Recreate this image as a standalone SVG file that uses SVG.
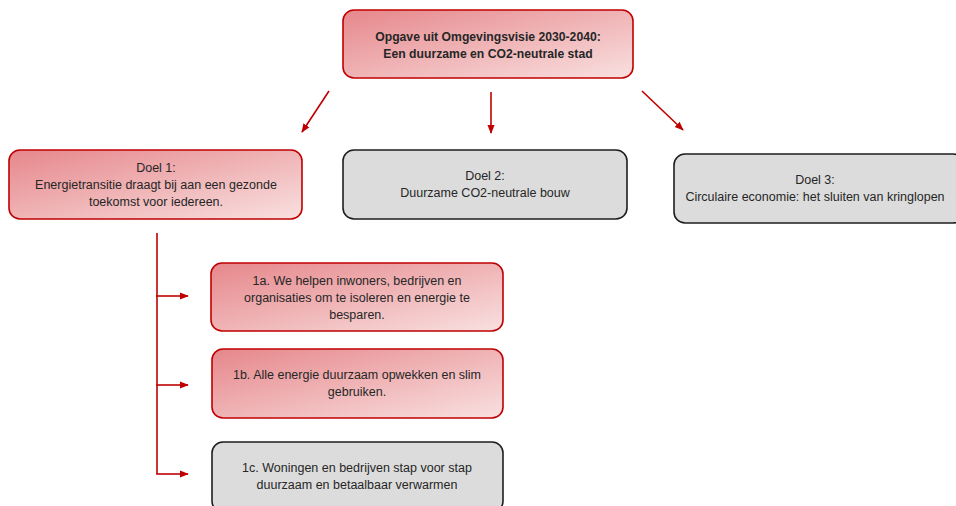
<svg xmlns="http://www.w3.org/2000/svg" width="956" height="506" viewBox="0 0 956 506">
<style>
.red{fill:url(#rg);stroke:#c00000;stroke-width:1.6}
.gray{fill:#dcdcdc;stroke:#1e1e1e;stroke-width:1.6}
text{font-family:"Liberation Sans",Arial,sans-serif;font-size:12.5px;fill:#262626;text-anchor:middle}
.b{font-weight:bold;font-size:12.2px}
.c{stroke:#c00000;stroke-width:1.6;fill:none}
</style>
<defs>
<linearGradient id="rg" x1="0" y1="0" x2="1" y2="1">
<stop offset="0" stop-color="#e6878b"/>
<stop offset="1" stop-color="#f9e0e0"/>
</linearGradient>
<marker id="ah" viewBox="0 0 10 10" refX="9" refY="5" markerWidth="9" markerHeight="9" markerUnits="userSpaceOnUse" orient="auto">
<path d="M0,1 L10,5 L0,9 z" fill="#c00000"/>
</marker>
</defs>
<rect width="956" height="506" fill="#fff"/>
<g id="connectors">
<line class="c" x1="329" y1="91" x2="302" y2="132" marker-end="url(#ah)"/>
<line class="c" x1="491" y1="92" x2="491" y2="133" marker-end="url(#ah)"/>
<line class="c" x1="642" y1="91" x2="683" y2="130" marker-end="url(#ah)"/>
<polyline class="c" points="157,233 157,474"/>
<line class="c" x1="156.2" y1="296" x2="188" y2="296" marker-end="url(#ah)"/>
<line class="c" x1="156.2" y1="385" x2="188" y2="385" marker-end="url(#ah)"/>
<line class="c" x1="156.2" y1="474" x2="188" y2="474" marker-end="url(#ah)"/>
</g>
<g id="top">
<rect class="red" x="343" y="10" width="290" height="68" rx="11"/>
<text class="b" x="488" y="41">Opgave uit Omgevingsvisie 2030-2040:</text>
<text class="b" x="488" y="58">Een duurzame en CO2-neutrale stad</text>
</g>
<g id="doel1">
<rect class="red" x="9" y="150" width="293" height="69" rx="11"/>
<text x="156" y="172">Doel 1:</text>
<text x="156" y="189">Energietransitie draagt bij aan een gezonde</text>
<text x="156" y="206">toekomst voor iedereen.</text>
</g>
<g id="doel2">
<rect class="gray" x="343" y="150" width="284" height="69" rx="11"/>
<text x="485" y="180">Doel 2:</text>
<text x="485" y="197">Duurzame CO2-neutrale bouw</text>
</g>
<g id="doel3">
<rect class="gray" x="674" y="154" width="290" height="69" rx="11"/>
<text x="815" y="184">Doel 3:</text>
<text x="815" y="201">Circulaire economie: het sluiten van kringlopen</text>
</g>
<g id="d1a">
<rect class="red" x="211" y="263" width="292" height="68" rx="11"/>
<text x="357" y="285">1a. We helpen inwoners, bedrijven en</text>
<text x="357" y="302">organisaties om te isoleren en energie te</text>
<text x="357" y="319">besparen.</text>
</g>
<g id="d1b">
<rect class="red" x="212" y="349" width="291" height="69" rx="11"/>
<text x="357" y="379">1b. Alle energie duurzaam opwekken en slim</text>
<text x="357" y="396">gebruiken.</text>
</g>
<g id="d1c">
<rect class="gray" x="212" y="442" width="291" height="70" rx="11"/>
<text x="357" y="472">1c. Woningen en bedrijven stap voor stap</text>
<text x="357" y="489">duurzaam en betaalbaar verwarmen</text>
</g>
</svg>
